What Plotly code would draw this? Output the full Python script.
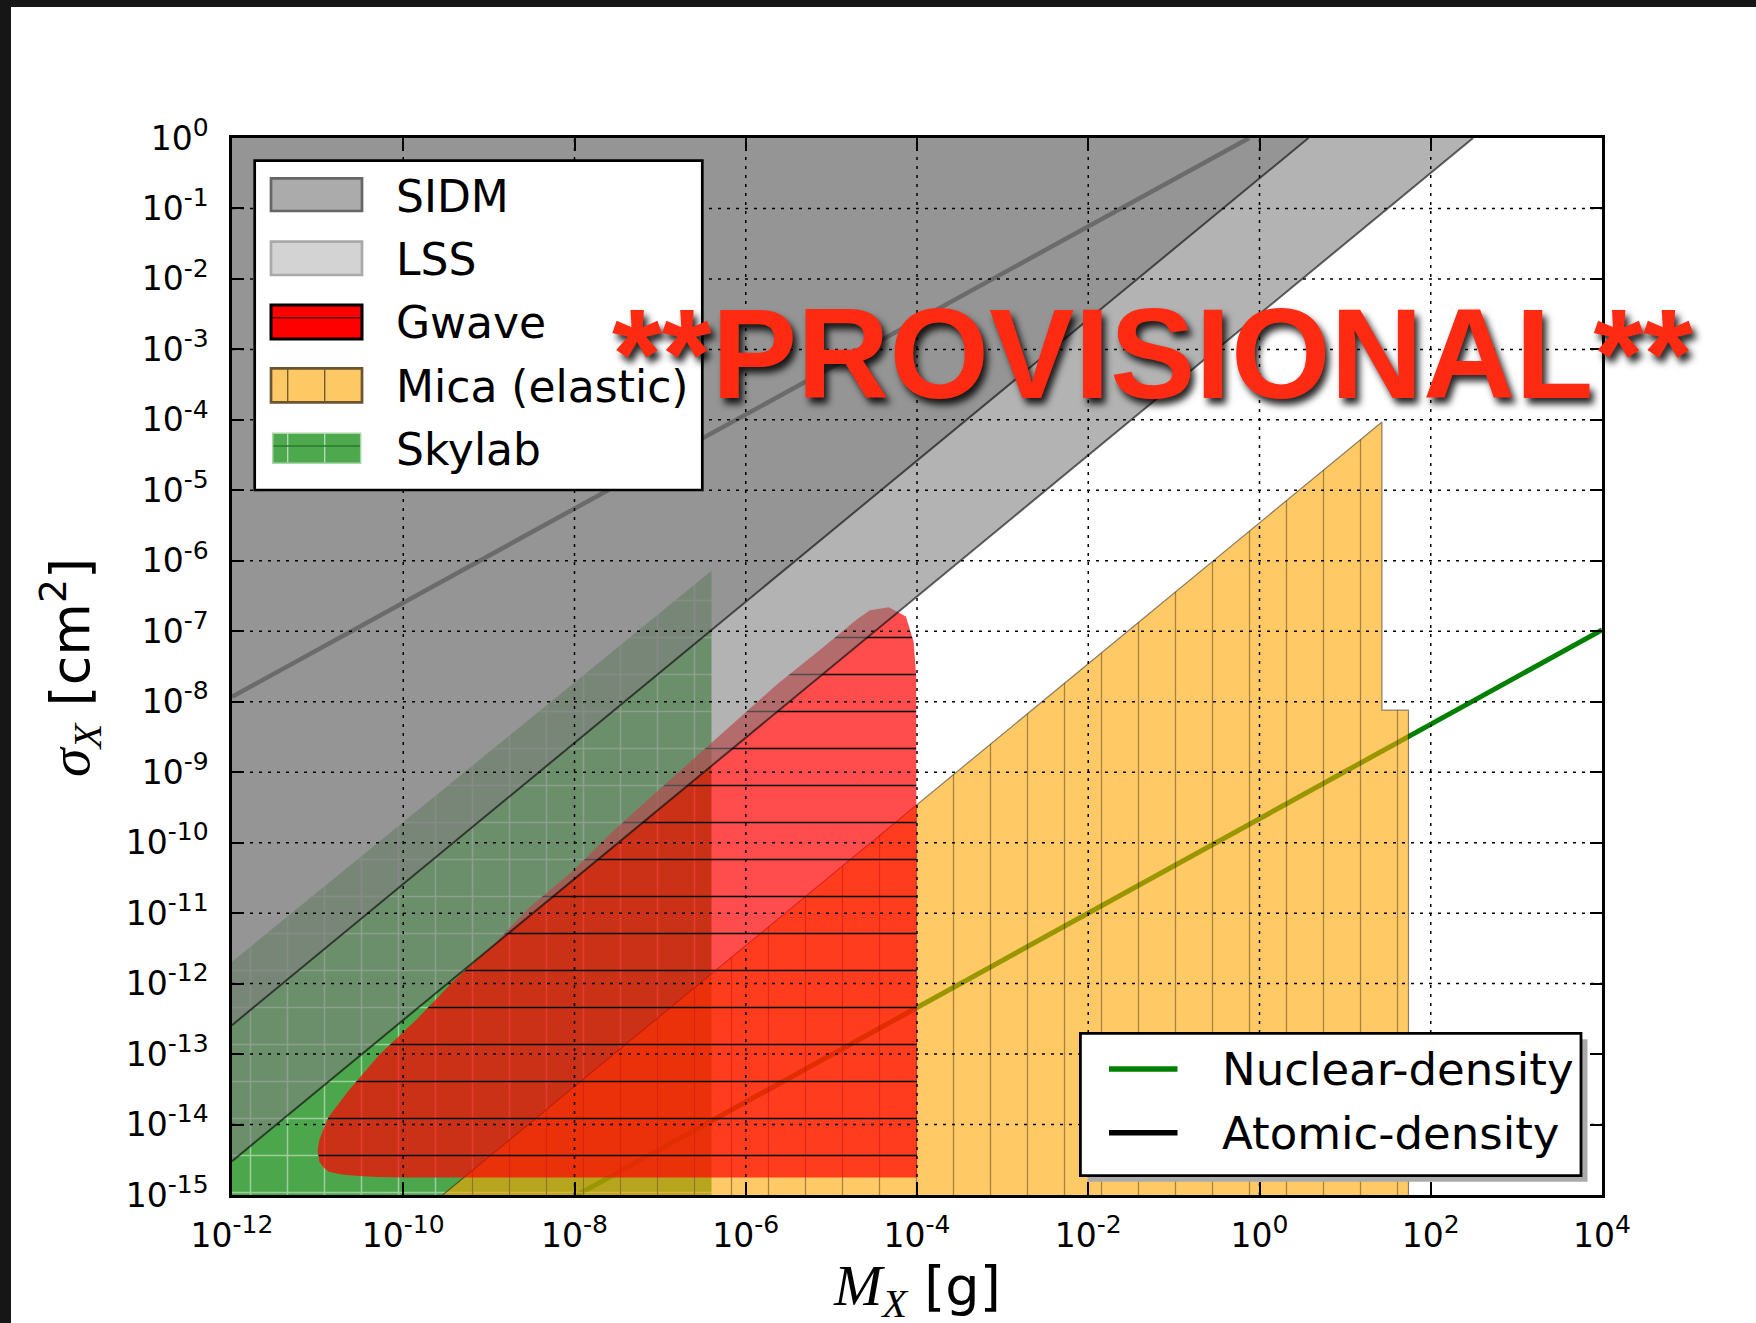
import plotly.graph_objects as go

# ---------------- data (log10 units) ----------------
x_tick_exp = [-12, -10, -8, -6, -4, -2, 0, 2, 4]
y_tick_exp = [0, -1, -2, -3, -4, -5, -6, -7, -8, -9, -10, -11, -12, -13, -14, -15]

atomic_logM = [-12.0, -0.12]
atomic_logS = [-7.93, 0.0]
nuclear_logM = [-7.97, 4.0]
nuclear_logS = [-15.0, -6.98]

# lower edges of the two grey exclusion regions
outer_edge_logM = [-12.0, 2.495]
outer_edge_logS = [-14.52, 0.0]
inner_edge_logM = [-12.0, 0.572]
inner_edge_logS = [-12.59, 0.0]

skylab_logM = [-12.0, -12.0, -6.40, -6.40]
skylab_logS = [-15.0, -11.69, -6.14, -15.0]

mica_logM = [-9.54, 1.43, 1.43, 1.74, 1.74]
mica_logS = [-15.0, -4.03, -8.12, -8.12, -15.0]

gwave_logM = [-11.00, -10.98, -10.93, -10.87, -10.64, -10.28, -9.83, -9.41, -8.94, -8.52,
              -8.01, -7.57, -7.09, -6.60, -6.11, -5.64, -5.11, -4.70, -4.55, -4.33, -4.13,
              -4.04, -4.01, -4.00, -9.98, -10.30, -10.52, -10.72, -10.87, -10.93, -10.98]
gwave_logS = [-14.36, -14.22, -14.06, -13.89, -13.52, -13.01, -12.49, -11.96, -11.44, -10.91,
              -10.39, -9.86, -9.33, -8.80, -8.28, -7.76, -7.24, -6.83, -6.70, -6.66, -6.79,
              -7.15, -7.62, -14.75, -14.75, -14.745, -14.73, -14.71, -14.67, -14.61, -14.53]

legend_patch_names = ["SIDM", "LSS", "Gwave", "Mica (elastic)", "Skylab"]
legend_line_names = ["Nuclear-density", "Atomic-density"]


def pw(a):
    return [10.0 ** v for v in a]


# ---------------- pixel helpers for paper coordinates ----------------
W_FIG, H_FIG = 1756, 1323
L, R, T, B = 232, 154, 138, 128
PW, PH = W_FIG - L - R, H_FIG - T - B


def px(x):
    return (x - L) / PW


def py(y):
    return 1 - (y - T) / PH


fig = go.Figure()

GRAY = 'rgba(128,128,128,0.6)'
EDGE = 'rgba(0,0,0,0.6)'

fig.add_trace(go.Scatter(x=pw(atomic_logM), y=pw(atomic_logS), mode='lines',
                         line=dict(color='black', width=4.5), name=legend_line_names[1],
                         hoverinfo='skip'))
fig.add_trace(go.Scatter(x=pw(nuclear_logM), y=pw(nuclear_logS), mode='lines',
                         line=dict(color='green', width=5), name=legend_line_names[0],
                         hoverinfo='skip'))

fig.add_trace(go.Scatter(x=pw(skylab_logM), y=pw(skylab_logS), fill='toself', mode='lines',
                         line=dict(width=0, color='rgba(0,0,0,0)'),
                         fillcolor='rgba(0,128,0,0.7)', name=legend_patch_names[4],
                         fillpattern=dict(shape='+', size=37, solidity=0.08, fillmode='overlay',
                                          bgcolor='rgba(0,128,0,0.7)', fgcolor='white',
                                          fgopacity=0.45),
                         hoverinfo='skip'))

fig.add_trace(go.Scatter(x=pw(mica_logM), y=pw(mica_logS), fill='toself', mode='lines',
                         line=dict(width=1.2, color='rgba(0,0,0,0.45)'),
                         fillcolor='rgba(255,165,0,0.6)', name=legend_patch_names[3],
                         fillpattern=dict(shape='|', size=37, solidity=0.035, fillmode='overlay',
                                          bgcolor='rgba(255,165,0,0.6)', fgcolor='black',
                                          fgopacity=0.35),
                         hoverinfo='skip'))

fig.add_trace(go.Scatter(x=pw(gwave_logM), y=pw(gwave_logS), fill='toself', mode='lines',
                         line=dict(width=0, color='rgba(0,0,0,0)'),
                         fillcolor='rgba(255,0,0,0.7)', name=legend_patch_names[2],
                         fillpattern=dict(shape='-', size=37, solidity=0.04, fillmode='overlay',
                                          bgcolor='rgba(255,0,0,0.7)', fgcolor='black',
                                          fgopacity=1),
                         hoverinfo='skip'))

# grey regions (filled up to the top-left corner) and their edges
for name, em, es in [(legend_patch_names[1], outer_edge_logM, outer_edge_logS),
                     (legend_patch_names[0], inner_edge_logM, inner_edge_logS)]:
    fig.add_trace(go.Scatter(x=pw([em[0], em[1], em[0]]), y=pw([es[0], es[1], es[1]]),
                             fill='toself', mode='lines',
                             line=dict(width=0, color='rgba(0,0,0,0)'),
                             fillcolor=GRAY, name=name, hoverinfo='skip'))
    fig.add_trace(go.Scatter(x=pw(em), y=pw(es), mode='lines',
                             line=dict(width=2, color=EDGE), hoverinfo='skip', name=name))

# dotted grid drawn above the filled regions
gx, gy = [], []
for e in x_tick_exp[1:-1]:
    gx += [10.0 ** e, 10.0 ** e, None]
    gy += [10.0 ** y_tick_exp[-1], 10.0 ** y_tick_exp[0], None]
for e in y_tick_exp[1:-1]:
    gx += [10.0 ** x_tick_exp[0], 10.0 ** x_tick_exp[-1], None]
    gy += [10.0 ** e, 10.0 ** e, None]
fig.add_trace(go.Scatter(x=gx, y=gy, mode='lines', connectgaps=False,
                         line=dict(color='black', width=1.5, dash='3px,6px'),
                         hoverinfo='skip', name='grid'))


def tick_label(e):
    return '10<sup><span style="font-size:25px">%d</span></sup>' % e


axis_common = dict(type='log', showgrid=False, zeroline=False, ticks='inside',
                   tickwidth=2, tickcolor='black', showline=True, linecolor='black',
                   linewidth=2.5, mirror='ticks',
                   tickfont=dict(family='DejaVu Sans', size=33, color='black'))
fig.update_xaxes(range=[x_tick_exp[0], x_tick_exp[-1]], tickvals=pw(x_tick_exp),
                 ticktext=[tick_label(e) for e in x_tick_exp], ticklen=13,
                 ticklabelstandoff=10, **axis_common)
fig.update_yaxes(range=[y_tick_exp[-1], y_tick_exp[0]], tickvals=pw(y_tick_exp),
                 ticktext=[tick_label(e) for e in y_tick_exp], ticklen=12,
                 ticklabelstandoff=14, **axis_common)

shapes = []
# dark slide border
shapes.append(dict(type='rect', xref='paper', yref='paper', x0=px(0), x1=px(W_FIG), y0=py(0), y1=py(7),
                   fillcolor='#161616', line=dict(width=0), layer='above'))
shapes.append(dict(type='rect', xref='paper', yref='paper', x0=px(0), x1=px(11), y0=py(0), y1=py(H_FIG),
                   fillcolor='#161616', line=dict(width=0), layer='above'))


def rect(x0, y0, x1, y1, fill, lc, lw):
    shapes.append(dict(type='rect', xref='paper', yref='paper', x0=px(x0), x1=px(x1), y0=py(y0), y1=py(y1),
                       fillcolor=fill, line=dict(color=lc, width=lw), layer='above'))


def seg(x0, y0, x1, y1, lc, lw):
    shapes.append(dict(type='line', xref='paper', yref='paper', x0=px(x0), x1=px(x1), y0=py(y0), y1=py(y1),
                       line=dict(color=lc, width=lw), layer='above'))


# legend 1
rect(254.7, 160.7, 702.3, 490, 'white', 'black', 2.7)
rect(271, 178.3, 362, 211, '#ababab', '#666666', 2.7)
rect(271, 241.7, 362, 275, '#d3d3d3', '#a9a9a9', 2.7)
rect(271, 305, 362, 339, '#ff0000', 'black', 3)
seg(272, 317.7, 361, 317.7, '#5a0000', 1.5)
rect(271, 368.3, 362, 402.3, '#fec865', '#6a5530', 2.7)
seg(287.7, 369.5, 287.7, 401, '#6a5530', 1.3)
seg(324.7, 369.5, 324.7, 401, '#6a5530', 1.3)
rect(272.7, 433.3, 360.7, 463.3, '#4ea84e', '#a8d8a8', 1.5)
seg(287.7, 434, 287.7, 462.5, '#b8e0b8', 1.3)
seg(324.7, 434, 324.7, 462.5, '#b8e0b8', 1.3)
seg(273.5, 446, 360, 446, '#2a7a2a', 1.3)

# legend 2 (with shadow)
rect(1087.5, 1039.3, 1587.5, 1181.7, '#aaaaaa', 'rgba(0,0,0,0)', 0)
rect(1080.4, 1033.3, 1581, 1175.7, 'white', 'black', 2.8)
seg(1109, 1069, 1177.5, 1069, 'green', 5.5)
seg(1109, 1132.7, 1177.5, 1132.7, 'black', 5.5)

annotations = []
leg_font = dict(family='DejaVu Sans', size=44, color='black')
for name, yc in zip(legend_patch_names, [195, 258.3, 321.7, 385, 448.7]):
    annotations.append(dict(text=name, x=px(394), y=py(yc + 1), xref='paper', yref='paper',
                            xanchor='left', yanchor='middle', showarrow=False, font=leg_font))
for name, yc in zip(legend_line_names, [1068.7, 1132.3]):
    annotations.append(dict(text=name, x=px(1219.5), y=py(yc + 1), xref='paper', yref='paper',
                            xanchor='left', yanchor='middle', showarrow=False,
                            font=dict(family='DejaVu Sans', size=45, color='black')))

serif = 'font-family:Liberation Serif;font-size:58px'
annotations.append(dict(text='<span style="%s"><i>M</i><sub><i>X</i></sub></span> [g]' % serif,
                        x=px(917), y=py(1289), xref='paper', yref='paper', xanchor='center',
                        yanchor='middle', showarrow=False,
                        font=dict(family='DejaVu Sans', size=54, color='black')))
annotations.append(dict(text='<span style="%s"><i>σ</i><sub><i>X</i></sub></span> [cm<sup>2</sup>]' % serif,
                        x=px(70), y=py(668), xref='paper', yref='paper', xanchor='center',
                        yanchor='middle', showarrow=False, textangle=-90,
                        font=dict(family='DejaVu Sans', size=54, color='black')))

annotations.append(dict(text='**PROVISIONAL**', x=px(1152), y=py(353), xref='paper', yref='paper',
                        xanchor='center', yanchor='middle', showarrow=False,
                        font=dict(family='Liberation Sans', size=128, color='#ff2a12', weight='bold',
                                  shadow='4px 6px 7px rgba(0,0,0,0.85)')))

fig.update_layout(width=W_FIG, height=H_FIG, showlegend=False,
                  margin=dict(l=L, r=R, t=T, b=B, pad=0),
                  plot_bgcolor='white', paper_bgcolor='white',
                  shapes=shapes, annotations=annotations)

fig.write_html("out.html")
